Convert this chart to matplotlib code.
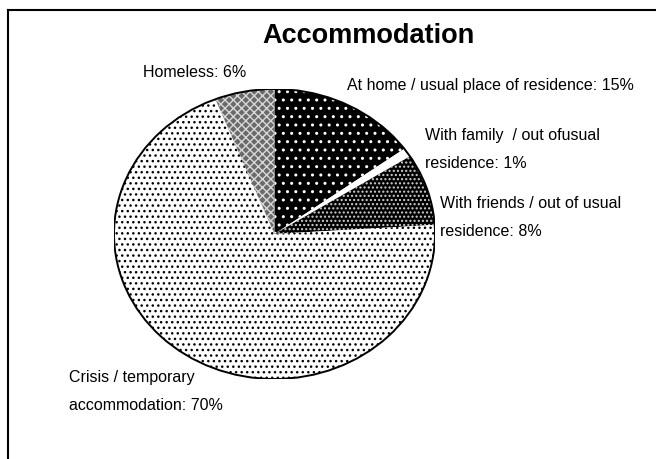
import matplotlib
matplotlib.use("Agg")
import matplotlib.pyplot as plt
from matplotlib.patches import Wedge, Ellipse
from matplotlib.lines import Line2D

plt.rcParams['font.family'] = ['Liberation Sans', 'DejaVu Sans']
plt.rcParams['hatch.linewidth'] = 1.0

title = "Accommodation"
categories = [
    "At home / usual place of residence",
    "With family  / out ofusual\nresidence",
    "With friends / out of usual\nresidence",
    "Crisis / temporary\naccommodation",
    "Homeless",
]
values = [15, 1, 8, 70, 6]

face_colors = ["black", "white", "black", "white", "#6a6a6a"]
hatch_colors = ["white", "white", "#d0d0d0", "black", "#d8d8d8"]
hatches = ["..", "", "....", "...", "xxxx"]

# label anchor positions in figure pixels (x, first-line baseline y)
label_pos = [(347, 90, 'left'), (425, 140, 'left'), (440, 208, 'left'),
             (69, 382, 'left'), (246, 77, 'right')]
LINE_STEP = 28

W, H = 656, 459
fig = plt.figure(figsize=(W / 100, H / 100), dpi=100)

cx, cy, rx, ry = 274.5, 234, 160.5, 145
ax = fig.add_axes([(cx - rx) / W, (H - cy - ry) / H, 2 * rx / W, 2 * ry / H])
wedges, _ = ax.pie(values, startangle=90, counterclock=False, colors=face_colors,
                   radius=1, wedgeprops=dict(linewidth=0))
for w, h, hc in zip(wedges, hatches, hatch_colors):
    if h:
        hw = Wedge(w.center, w.r, w.theta1, w.theta2, facecolor='none',
                   edgecolor=hc, hatch=h, linewidth=0)
        ax.add_patch(hw)
ax.add_patch(Ellipse((0, 0), 2, 2, facecolor='none', edgecolor='black', linewidth=1.4))
ax.set_aspect('auto')
ax.set_xlim(-1, 1)
ax.set_ylim(-1, 1)
ax.axis('off')

# frame
fig.add_artist(Line2D([8 / W, 1.0], [1 - 10 / H, 1 - 10 / H], color='black', lw=1.5,
                      transform=fig.transFigure))
fig.add_artist(Line2D([8 / W, 8 / W], [1 - 10 / H, 0], color='black', lw=1.5,
                      transform=fig.transFigure))

fig.text(368 / W, 1 - 43 / H, title, ha='center', va='baseline',
         fontsize=19.5, fontweight='bold')

for cat, v, (x, y, ha) in zip(categories, values, label_pos):
    lines = f"{cat}: {v}%".split("\n")
    for i, line in enumerate(lines):
        fig.text(x / W, 1 - (y + i * LINE_STEP) / H, line, ha=ha, va='baseline',
                 fontsize=11.5)

fig.savefig("out.png", dpi=100)
